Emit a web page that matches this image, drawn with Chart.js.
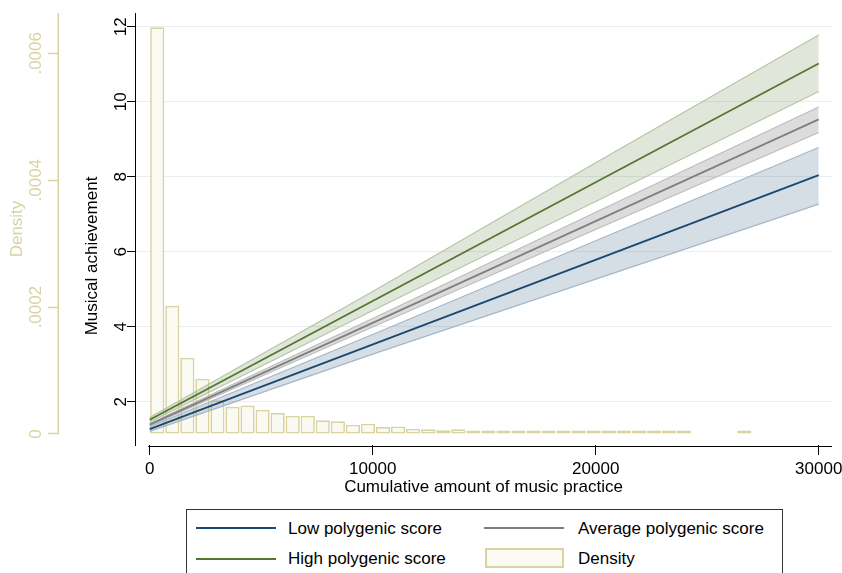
<!DOCTYPE html>
<html><head><meta charset="utf-8">
<script src="https://cdn.jsdelivr.net/npm/chart.js@4.4.0/dist/chart.umd.min.js"></script>
<style>
html,body{margin:0;padding:0;background:#fff;}
#wrap{position:relative;width:842px;height:573px;overflow:hidden;font-family:"Liberation Sans",Arial,sans-serif;}
canvas{position:absolute;left:0;top:0;}
#legend{position:absolute;left:186px;top:509px;width:597px;height:90px;border:1px solid #333;box-sizing:border-box;background:#fff;}
.sw{position:absolute;height:0;width:80px;border-top:2px solid;}
.lt{position:absolute;font-size:17px;line-height:20px;color:#000;white-space:nowrap;}
.bx{position:absolute;width:79px;height:20px;box-sizing:border-box;border:2px solid #d8d3a0;background:#fafaf3;}
</style></head>
<body><div id="wrap"><canvas id="c" width="842" height="573"></canvas>
<div id="legend">
  <div class="sw" style="left:9px;top:17px;border-color:#1a476f"></div>
  <div class="lt" style="left:101px;top:9px">Low polygenic score</div>
  <div class="sw" style="left:297px;top:17px;border-color:#808080"></div>
  <div class="lt" style="left:391px;top:9px">Average polygenic score</div>
  <div class="sw" style="left:9px;top:48px;border-color:#55752f"></div>
  <div class="lt" style="left:101px;top:39px">High polygenic score</div>
  <div class="bx" style="left:298px;top:38px"></div>
  <div class="lt" style="left:391px;top:39px">Density</div>
</div>
</div>
<script>
// ---- data ----
const xTicks = [0, 10000, 20000, 30000];
const xTickLabels = ['0', '10000', '20000', '30000'];
const yTicks = [2, 4, 6, 8, 10, 12];
const densityTicks = [0, 0.0002, 0.0004, 0.0006];
const densityTickLabels = ['0', '.0002', '.0004', '.0006'];

// histogram of practice (bin mid-points, density)
const binMids = [337.5, 1012.5, 1687.5, 2362.5, 3037.5, 3712.5, 4387.5, 5062.5, 5737.5, 6412.5,
  7087.5, 7762.5, 8437.5, 9112.5, 9787.5, 10462.5, 11137.5, 11812.5, 12487.5, 13162.5,
  13837.5, 14512.5, 15187.5, 15862.5, 16537.5, 17212.5, 17887.5, 18562.5, 19237.5, 19912.5,
  20587.5, 21262.5, 21937.5, 22612.5, 23287.5, 23962.5, 26662.5];
const densities = [0.000641, 0.000202, 0.000120, 0.000087, 0.000053, 0.000043, 0.000045, 0.000038, 0.000033, 0.0000285,
  0.0000285, 0.0000215, 0.000020, 0.0000145, 0.000016, 0.000011, 0.000012, 0.000008, 0.0000075, 0.000006,
  0.0000075, 0.0000047, 0.0000047, 0.0000043, 0.0000032, 0.0000027, 0.000002, 0.0000015, 0.0000012, 0.0000012,
  0.000001, 0.000001, 0.000001, 0.000001, 0.000001, 0.000001, 0.000001];

// fitted lines
const fitX = [0, 30000];
const lowFit = [1.27, 8.04];
const avgFit = [1.39, 9.53];
const highFit = [1.52, 11.02];

// confidence bands
const ciX = [0, 10000, 20000, 30000];
const lowUpper = [1.33, 3.79, 6.29, 8.78];
const lowLower = [1.21, 3.27, 5.27, 7.27];
const avgUpper = [1.42, 4.22, 7.05, 9.86];
const avgLower = [1.36, 3.99, 6.59, 9.18];
const highUpper = [1.58, 4.94, 8.37, 11.78];
const highLower = [1.46, 4.43, 7.34, 10.27];

// ---- helpers ----
const pts = (xs, ys) => xs.map((x, i) => ({x: x, y: ys[i]}));
const KHAKI = '#d8d3a0';

Chart.defaults.font.family = '"Liberation Sans", Arial, sans-serif';
Chart.defaults.font.size = 17;
Chart.defaults.color = '#000';

const noPad = s => { s.paddingLeft = 0; s.paddingRight = 0; s.paddingTop = 0; s.paddingBottom = 0; };

const axisPlugin = {
  id: 'stataAxes',
  afterDraw(chart) {
    const {ctx, chartArea, scales} = chart;
    const x = scales.x, y = scales.y, yD = scales.yD;
    ctx.save();
    // x axis line
    ctx.strokeStyle = '#000';
    ctx.lineWidth = 1;
    ctx.beginPath();
    ctx.moveTo(x.getPixelForValue(0) - 1.5, chartArea.bottom + 1.5);
    ctx.lineTo(chartArea.right, chartArea.bottom + 1.5);
    ctx.stroke();
    // density axis line
    ctx.strokeStyle = KHAKI;
    ctx.lineWidth = 1.5;
    ctx.beginPath();
    ctx.moveTo(yD.right + 0.25, chartArea.top);
    ctx.lineTo(yD.right + 0.25, yD.getPixelForValue(0));
    ctx.stroke();
    // main y title
    ctx.fillStyle = '#000';
    ctx.font = '17px "Liberation Sans", Arial, sans-serif';
    ctx.textAlign = 'center';
    ctx.textBaseline = 'middle';
    ctx.translate(y.left + 34, (chartArea.top + chartArea.bottom) / 2 + 27);
    ctx.rotate(-Math.PI / 2);
    ctx.fillText('Musical achievement', 0, 0);
    ctx.restore();
  }
};

const bandLine = (label, data, color) => ({
  type: 'line', label: label, data: data, yAxisID: 'y', xAxisID: 'x',
  borderColor: color, borderWidth: 1.2, pointRadius: 0, tension: 0, fill: false, order: 5
});
const bandLower = (label, data, color, fillColor) => ({
  type: 'line', label: label, data: data, yAxisID: 'y', xAxisID: 'x',
  borderColor: color, borderWidth: 1.2, pointRadius: 0, tension: 0,
  fill: '-1', backgroundColor: fillColor, order: 5
});
const fitLine = (label, data, color) => ({
  type: 'line', label: label, data: data, yAxisID: 'y', xAxisID: 'x',
  borderColor: color, borderWidth: 1.8, pointRadius: 0, tension: 0, fill: false, order: 0
});

new Chart(document.getElementById('c'), {
  type: 'bar',
  data: {
    datasets: [
      {
        type: 'bar', label: 'Density', data: pts(binMids, densities),
        xAxisID: 'x', yAxisID: 'yD',
        backgroundColor: '#fafaf3', borderColor: KHAKI, borderWidth: 1.7, borderSkipped: false,
        barPercentage: 0.94, categoryPercentage: 1, minBarLength: 3.4, grouped: false, order: 10
      },
      bandLine('Low upper', pts(ciX, lowUpper), '#a5b6c7'),
      bandLower('Low lower', pts(ciX, lowLower), '#a5b6c7', 'rgba(26,71,111,0.18)'),
      bandLine('Average upper', pts(ciX, avgUpper), '#bdbdbd'),
      bandLower('Average lower', pts(ciX, avgLower), '#bdbdbd', 'rgba(128,128,128,0.28)'),
      bandLine('High upper', pts(ciX, highUpper), '#b7c5a7'),
      bandLower('High lower', pts(ciX, highLower), '#b7c5a7', 'rgba(85,117,47,0.18)'),
      fitLine('Low polygenic score', pts(fitX, lowFit), '#1a476f'),
      fitLine('Average polygenic score', pts(fitX, avgFit), '#808080'),
      fitLine('High polygenic score', pts(fitX, highFit), '#55752f')
    ]
  },
  options: {
    responsive: false,
    animation: false,
    events: [],
    layout: {padding: {left: 0, right: 10, top: 13, bottom: 73}},
    plugins: {legend: {display: false}, tooltip: {enabled: false}},
    scales: {
      x: {
        type: 'linear', position: 'bottom', min: -659, max: 30596, offset: false,
        afterBuildTicks: s => { s.ticks = xTicks.map(v => ({value: v})); },
        afterFit: s => { s.height = 55; noPad(s); },
        ticks: {color: '#000', padding: 4, maxRotation: 0, autoSkip: false,
          callback: (v, i) => xTickLabels[i]},
        grid: {drawOnChartArea: false, offset: false, tickLength: 10, tickColor: '#000', tickWidth: 1},
        border: {display: false},
        title: {display: true, text: 'Cumulative amount of music practice', color: '#000',
          padding: {top: 0, bottom: 2}}
      },
      y: {
        type: 'linear', position: 'left', weight: 0, min: 0.845, max: 12.365,
        afterBuildTicks: s => { s.ticks = yTicks.map(v => ({value: v})); },
        afterFit: s => { s.width = 77; noPad(s); },
        ticks: {color: '#000', padding: -3.5, minRotation: 90, maxRotation: 90,
          crossAlign: 'center', autoSkip: false},
        grid: {color: '#e8eef1', tickColor: '#000', tickLength: 8, lineWidth: 1},
        border: {display: true, color: '#000', width: 1}
      },
      yD: {
        type: 'linear', position: 'left', weight: 10, min: -0.00001734, max: 0.0006635,
        afterBuildTicks: s => { s.ticks = densityTicks.map(v => ({value: v})); },
        afterFit: s => { s.width = 58; noPad(s); },
        ticks: {color: KHAKI, padding: -9.75, minRotation: 90, maxRotation: 90,
          crossAlign: 'center', autoSkip: false, callback: (v, i) => densityTickLabels[i]},
        grid: {drawOnChartArea: false, tickColor: KHAKI, tickLength: 10, tickWidth: 1.5},
        border: {display: false},
        title: {display: true, text: 'Density', color: KHAKI, padding: {top: 7, bottom: 0}}
      }
    }
  },
  plugins: [axisPlugin]
});
</script>
</body></html>
